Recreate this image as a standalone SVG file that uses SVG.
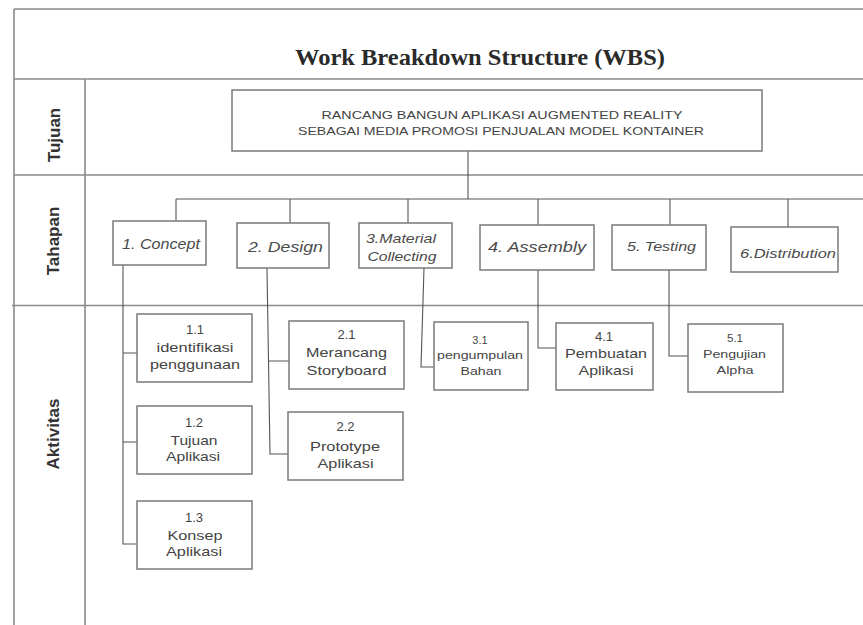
<svg xmlns="http://www.w3.org/2000/svg" width="863" height="625" viewBox="0 0 863 625">
<style>
.frame{stroke:#8a8a8a;stroke-width:1.6;fill:none}
.box{fill:#fff;stroke:#7a7a7a;stroke-width:1.5}
.con{stroke:#555;stroke-width:1.1;fill:none}
.t{font-family:"Liberation Sans",Arial,sans-serif;fill:#444;text-anchor:middle}
.it{font-style:italic;fill:#4a4a4a}
.row{font-family:"Liberation Sans",Arial,sans-serif;font-weight:bold;font-size:17px;fill:#333;text-anchor:middle;dominant-baseline:central}
.title{font-family:"Liberation Serif","Times New Roman",serif;font-weight:bold;font-size:24px;fill:#2a2a2a;text-anchor:middle}
</style>
<rect width="863" height="625" fill="#fff"/>
<g id="frame">
<path class="frame" d="M14,9H863M14,79H863M14,175H863M12,305.5H863M14,9V625M85,79V625"/>
<text class="title" x="480" y="65" textLength="370" lengthAdjust="spacingAndGlyphs">Work Breakdown Structure (WBS)</text>
<text class="row" transform="rotate(-90 54 135)" x="54" y="135">Tujuan</text>
<text class="row" transform="rotate(-90 53 241)" x="53" y="241">Tahapan</text>
<text class="row" transform="rotate(-90 53 434)" x="53" y="434">Aktivitas</text>
</g>
<g id="connectors">
<path class="con" d="M468,151V199M176,199H863M176,199V221M290,199V223M408,199V223M538,199V225M670,199V225M788,199V227"/>
<path class="con" d="M123,265V544H137M123,353H137M123,442H137"/>
<path class="con" d="M267,268L270,454H288M268.5,361H289"/>
<path class="con" d="M424,268L421,367H434"/>
<path class="con" d="M538,270V348H556"/>
<path class="con" d="M669,270V356H688"/>
</g>
<g id="goal">
<rect class="box" x="232" y="90" width="530" height="61"/>
<text class="t" font-size="11.5" x="502" y="119" textLength="361" lengthAdjust="spacingAndGlyphs">RANCANG BANGUN APLIKASI AUGMENTED REALITY</text>
<text class="t" font-size="11.5" x="501" y="134.5" textLength="406" lengthAdjust="spacingAndGlyphs">SEBAGAI MEDIA PROMOSI PENJUALAN MODEL KONTAINER</text>
</g>
<g id="stage1">
<rect class="box" x="113" y="221" width="93" height="44"/>
<text class="t it" font-size="14" x="161" y="249" textLength="78" lengthAdjust="spacingAndGlyphs">1. Concept</text>
</g>
<g id="stage2">
<rect class="box" x="237" y="223" width="92" height="45"/>
<text class="t it" font-size="15" x="285.5" y="252" textLength="75" lengthAdjust="spacingAndGlyphs">2. Design</text>
</g>
<g id="stage3">
<rect class="box" x="359" y="223" width="93" height="45"/>
<text class="t it" font-size="13" x="401" y="243" textLength="70" lengthAdjust="spacingAndGlyphs">3.Material</text>
<text class="t it" font-size="13" x="402" y="261" textLength="69" lengthAdjust="spacingAndGlyphs">Collecting</text>
</g>
<g id="stage4">
<rect class="box" x="480" y="225" width="114" height="45"/>
<text class="t it" font-size="15" x="537" y="252" textLength="98" lengthAdjust="spacingAndGlyphs">4. Assembly</text>
</g>
<g id="stage5">
<rect class="box" x="612" y="225" width="94" height="45"/>
<text class="t it" font-size="13" x="661.5" y="250.5" textLength="69" lengthAdjust="spacingAndGlyphs">5. Testing</text>
</g>
<g id="stage6">
<rect class="box" x="731" y="227" width="107" height="45"/>
<text class="t it" font-size="13" x="788" y="257.5" textLength="96" lengthAdjust="spacingAndGlyphs">6.Distribution</text>
</g>
<g id="act11">
<rect class="box" x="137" y="314" width="115" height="68"/>
<text class="t" font-size="13" x="195" y="334">1.1</text>
<text class="t" font-size="13" x="195" y="351.5" textLength="77" lengthAdjust="spacingAndGlyphs">identifikasi</text>
<text class="t" font-size="13" x="195" y="369" textLength="90" lengthAdjust="spacingAndGlyphs">penggunaan</text>
</g>
<g id="act12">
<rect class="box" x="137" y="406" width="115" height="68"/>
<text class="t" font-size="13" x="194" y="427">1.2</text>
<text class="t" font-size="13" x="194" y="444.5" textLength="47" lengthAdjust="spacingAndGlyphs">Tujuan</text>
<text class="t" font-size="13" x="193" y="461" textLength="54" lengthAdjust="spacingAndGlyphs">Aplikasi</text>
</g>
<g id="act13">
<rect class="box" x="137" y="501" width="115" height="68"/>
<text class="t" font-size="13" x="194" y="522">1.3</text>
<text class="t" font-size="13" x="195" y="539.5" textLength="55" lengthAdjust="spacingAndGlyphs">Konsep</text>
<text class="t" font-size="13" x="194" y="556" textLength="56" lengthAdjust="spacingAndGlyphs">Aplikasi</text>
</g>
<g id="act21">
<rect class="box" x="289" y="321" width="115" height="68"/>
<text class="t" font-size="13" x="346.5" y="339">2.1</text>
<text class="t" font-size="13" x="346.5" y="357" textLength="81" lengthAdjust="spacingAndGlyphs">Merancang</text>
<text class="t" font-size="13" x="346.5" y="375" textLength="80" lengthAdjust="spacingAndGlyphs">Storyboard</text>
</g>
<g id="act22">
<rect class="box" x="288" y="412" width="115" height="68"/>
<text class="t" font-size="13" x="345.5" y="431">2.2</text>
<text class="t" font-size="13" x="345" y="450.5" textLength="70" lengthAdjust="spacingAndGlyphs">Prototype</text>
<text class="t" font-size="13" x="345.5" y="468" textLength="56" lengthAdjust="spacingAndGlyphs">Aplikasi</text>
</g>
<g id="act31">
<rect class="box" x="434" y="322" width="94" height="68"/>
<text class="t" font-size="11" x="480" y="344">3.1</text>
<text class="t" font-size="11" x="480" y="359" textLength="86" lengthAdjust="spacingAndGlyphs">pengumpulan</text>
<text class="t" font-size="11" x="481" y="375" textLength="41" lengthAdjust="spacingAndGlyphs">Bahan</text>
</g>
<g id="act41">
<rect class="box" x="556" y="323" width="97" height="67"/>
<text class="t" font-size="13" x="604" y="340.5">4.1</text>
<text class="t" font-size="13" x="606" y="358" textLength="82" lengthAdjust="spacingAndGlyphs">Pembuatan</text>
<text class="t" font-size="13" x="606" y="374.5" textLength="55" lengthAdjust="spacingAndGlyphs">Aplikasi</text>
</g>
<g id="act51">
<rect class="box" x="688" y="324" width="95" height="68"/>
<text class="t" font-size="11.5" x="735" y="342">5.1</text>
<text class="t" font-size="11.5" x="734.5" y="357.5" textLength="63" lengthAdjust="spacingAndGlyphs">Pengujian</text>
<text class="t" font-size="11.5" x="735" y="373.5" textLength="37" lengthAdjust="spacingAndGlyphs">Alpha</text>
</g>
</svg>
